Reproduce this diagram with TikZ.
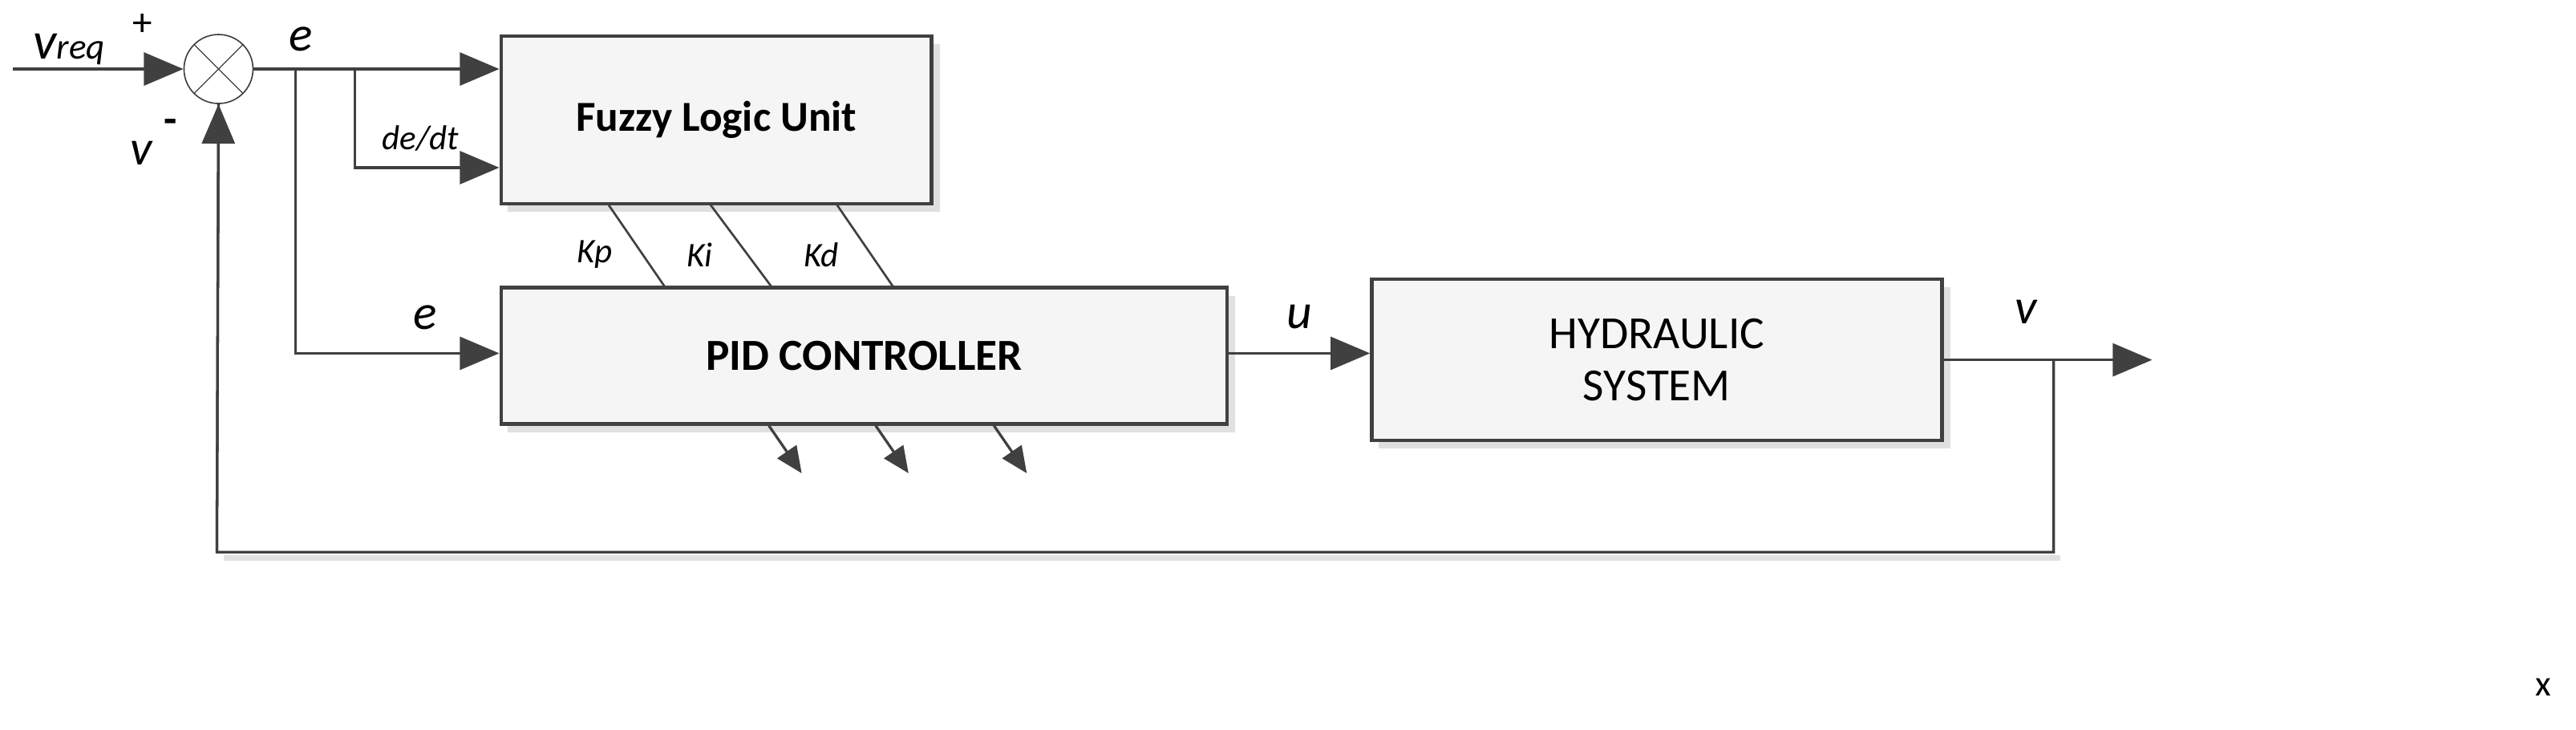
\documentclass[tikz,border=0pt]{standalone}
\usepackage{fontspec}
\setmainfont{Carlito}
\usetikzlibrary{arrows.meta}
\definecolor{ln}{HTML}{404040}
\begin{document}
\begin{tikzpicture}[x=1pt,y=-1pt,
  blk/.style={draw=ln,line width=2.2pt,fill=black!4,inner sep=0pt},
  wire/.style={draw=ln,line width=1.6pt},
  arr/.style={wire,-{Triangle[length=24pt,width=20pt]}},
  sarr/.style={wire,-{Triangle[length=16pt,width=14pt]}},
  gain/.style={draw=ln,line width=1.3pt},
  lab/.style={font=\fontsize{30}{30}\selectfont\itshape,inner sep=0pt},
  slab/.style={font=\fontsize{21}{21}\selectfont\itshape,inner sep=0pt}]
\useasboundingbox (0,0) rectangle (1568,444);
% shadows
\fill[black!12] (310,128) rectangle (571,128-4) ;
\fill[black!12] (309,27) rectangle (572,129);
\fill[black!12] (309,180) rectangle (752,263);
\fill[black!12] (839,175) rectangle (1187,273);
\fill[black!12] (136,338) rectangle (1254,341);
% blocks
\node[blk,minimum width=262pt,minimum height=102pt,font=\fontsize{26}{26}\selectfont\bfseries] (flu) at (436,73) {Fuzzy Logic Unit};
\node[blk,minimum width=442pt,minimum height=83pt,font=\fontsize{27}{27}\selectfont\bfseries] (pid) at (526,216.5) {PID CONTROLLER};
\node[blk,minimum width=347pt,minimum height=98pt,align=center,font=\fontsize{28}{32}\selectfont] (hyd) at (1008.5,219) {HYDRAULIC\\SYSTEM};
\node[circle,draw=ln,line width=0.8pt,fill=white,minimum size=42pt,inner sep=0pt] (sum) at (133,42) {};
\draw[ln,line width=0.6pt] (sum.north west)--(sum.south east) (sum.north east)--(sum.south west);
% coordinates
\coordinate (in) at (8,42);
\coordinate (b1) at (180,42);
\coordinate (b2) at (216,42);
\coordinate (out) at (1310,219);
\coordinate (b3) at (1250,219);
% wires
\draw[arr] (in) -- (sum.west);
\draw[arr] (sum.east) -- (flu.west |- sum.east);
\draw[arr] (b2) |- (flu.west |- 0,102);
\draw[arr] (b1) |- (pid.west |- 0,215);
\draw[arr] (pid.east |- 0,215) -- (hyd.west |- 0,215);
\draw[arr] (hyd.east |- out) -- (out);
\draw[wire] (b3) |- (132,336) -- (sum.south);
\draw[arr] (132,336) -- (sum.south);
% gains
\draw[gain] (370,124) -- (405,175);
\draw[gain] (432,124) -- (470,175);
\draw[gain] (509,124) -- (544,175);
\draw[sarr] (468,259) -- (488,288);
\draw[sarr] (533,259) -- (553,288);
\draw[sarr] (605,259) -- (625,288);
% labels
\node[inner sep=0pt] (lvreq) at (42,30) {\fontsize{32}{32}\selectfont\itshape v\fontsize{22}{22}\selectfont req};
\node[inner sep=0pt,font=\fontsize{24}{24}\selectfont] (lplus) at (87,15) {+};
\node[lab] (le1) at (183,24) {e};
\node[slab] (lde) at (256,84) {de/dt};
\node[lab] (lv2) at (86,93) {v};
\node[inner sep=0pt,font=\fontsize{26}{26}\selectfont\bfseries] (lmin) at (104,77) {-};
\node[lab] (le2) at (259,193) {e};
\node[slab] (lkp) at (362,155) {Kp};
\node[slab] (lki) at (426,155) {Ki};
\node[slab] (lkd) at (500,155) {Kd};
\node[lab] (lu) at (791,193) {u};
\node[lab] (lv) at (1233,190) {v};
\node[inner sep=0pt,font=\fontsize{22}{22}\selectfont] (lx) at (1548,418) {x};
\end{tikzpicture}
\end{document}
